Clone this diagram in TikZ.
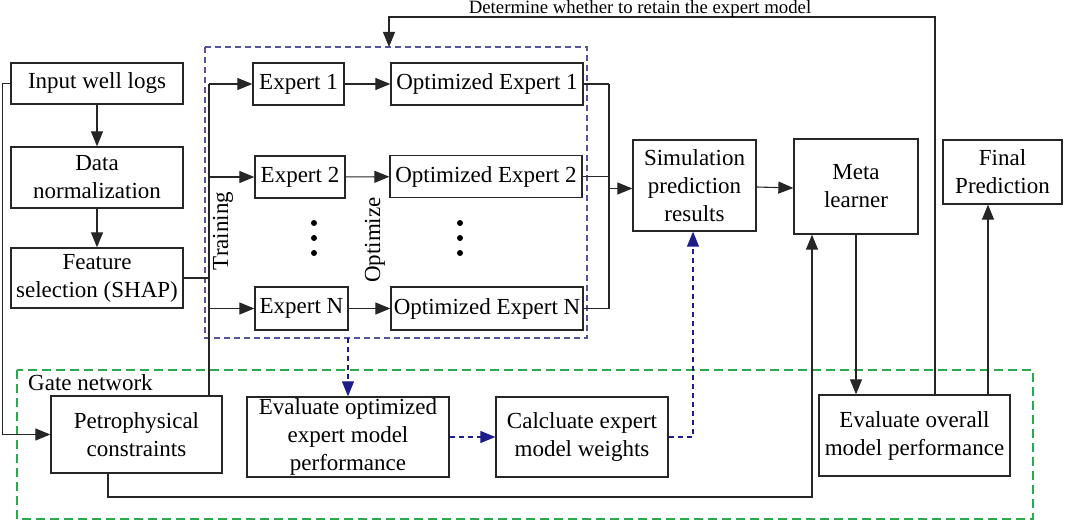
\documentclass[tikz,border=0pt]{standalone}
\usepackage{fontspec}
\setmainfont{Liberation Serif}
\usetikzlibrary{arrows.meta,calc}
\definecolor{gatec}{HTML}{2EA84E}
\definecolor{blueboxc}{HTML}{55559F}
\definecolor{bluearr}{HTML}{1E1E8A}
\begin{document}
\begin{tikzpicture}[x=1pt,y=-1pt,
  box/.style={draw=black!85,line width=1.3pt,inner sep=0pt,align=center,
    font=\fontsize{23}{28}\selectfont},
  conn/.style={line width=1.1pt,draw=black!85},
  arr/.style={conn,-{Triangle[length=15pt,width=12pt]}},
  barr/.style={line width=1.1pt,draw=bluearr,dash pattern=on 5pt off 4pt,
    -{Triangle[length=15pt,width=12pt]}},
  dotmark/.style={circle,fill=black,inner sep=0pt,minimum size=6pt}]
\useasboundingbox (0,0) rectangle (1065,521);
% containers
\draw[blueboxc,line width=1.1pt,dash pattern=on 6pt off 4pt] (205,47) rectangle (587,338);
\draw[gatec,line width=1.3pt,dash pattern=on 9pt off 5pt] (17,370) rectangle (1033,519);
\node[anchor=base west,inner sep=0pt,font=\fontsize{23}{26}\selectfont] (gatelbl) at (28,390) {Gate network};
% nodes
\node[box,minimum width=172pt,minimum height=41pt] (inp) at (97,83.5) {Input well logs};
\node[box,minimum width=172pt,minimum height=61pt] (norm) at (97,177.5) {Data\\normalization};
\node[box,minimum width=172pt,minimum height=60pt] (feat) at (97,278) {Feature\\selection (SHAP)};
\node[box,minimum width=91pt,minimum height=42pt] (e1) at (298.5,84) {Expert 1};
\node[box,minimum width=90pt,minimum height=42pt] (e2) at (300,177) {Expert 2};
\node[box,minimum width=93pt,minimum height=43pt] (eN) at (301.5,308.5) {Expert N};
\node[box,minimum width=192pt,minimum height=42pt] (o1) at (487,84) {Optimized Expert 1};
\node[box,minimum width=192pt,minimum height=42pt] (o2) at (486,176.5) {Optimized Expert 2};
\node[box,minimum width=192pt,minimum height=43pt] (oN) at (487,308.5) {Optimized Expert N};
\node[box,minimum width=123pt,minimum height=91pt] (sim) at (694.5,185.5) {Simulation\\prediction\\results};
\node[box,minimum width=124pt,minimum height=95pt] (meta) at (856,186.5) {Meta\\learner};
\node[box,minimum width=119pt,minimum height=64pt] (fin) at (1002.5,172) {Final\\Prediction};
\node[box,minimum width=171pt,minimum height=77pt] (petro) at (136.5,434.5) {Petrophysical\\constraints};
\node[box,minimum width=202pt,minimum height=80pt] (evopt) at (348,437) {Evaluate optimized\\expert model\\performance};
\node[box,minimum width=172pt,minimum height=80pt] (calc) at (582,437) {Calcluate expert\\model weights};
\node[box,minimum width=191pt,minimum height=81pt] (evall) at (914.5,435.5) {Evaluate overall\\model performance};
% labels
\node[rotate=90,inner sep=0pt,font=\fontsize{23}{26}\selectfont] (trainlbl) at (223,231) {Training};
\node[rotate=90,inner sep=0pt,font=\fontsize{23}{26}\selectfont] (optlbl) at (375,240) {Optimize};
\foreach \yy [count=\i] in {223,238,253} {
  \node[dotmark] (da\i) at (314,\yy) {};
  \node[dotmark] (db\i) at (460,\yy) {};
}
% coordinates
\coordinate (trtop) at (209,84);
\coordinate (join) at (609,84);
\coordinate (fbx) at (935,17);
\coordinate (fbl) at (389,17);
\coordinate (ptx) at (812,497);
% connectors left column
\draw[arr] (inp) -- (norm);
\draw[arr] (norm) -- (feat);
\draw[arr] (inp.west) -- ++(-8,0) |- (petro.west);
\draw[conn] (feat.east) -- (feat.east -| trtop);
\draw[conn] (trtop) -- (trtop |- petro.north);
\draw[arr] (trtop) -- (e1.west);
\draw[arr] (e2.west -| trtop) -- (e2.west);
\draw[arr] (eN.west -| trtop) -- (eN.west);
\draw[arr] (e1) -- (o1);
\draw[arr] (e2) -- (o2);
\draw[arr] (eN) -- (oN);
\draw[conn] (o1.east) -- (join);
\draw[conn] (o2.east) -- (o2.east -| join);
\draw[conn] (oN.east) -- (oN.east -| join) -- (join);
\draw[arr] ($(sim.west -| join)+(0,3)$) -- ($(sim.west)+(0,3)$);
\draw[arr] ($(sim.east)+(0,1.5)$) -- ($(meta.west)+(0,1.5)$);
\draw[arr] (meta.south) -- (meta.south |- evall.north);
\draw[arr] (evall.north -| 988,0) -- (fin.south -| 988,0);
\draw[arr] (evall.north -| fbx) -- (fbx) -- (fbl) -- (fbl |- 0,47);
\node[anchor=base,inner sep=0pt,font=\fontsize{18.8}{22}\selectfont] (fbtext) at (640,14) {Determine whether to retain the expert model};
\draw[arr] ($(petro.south)+(-28.5,0)$) |- (ptx) -- (ptx |- meta.south);
% dashed blue connectors
\draw[barr] (evopt.north |- 0,338) -- (evopt.north);
\draw[barr] (evopt.east) -- (calc.west);
\draw[barr] (calc.east) -- (calc.east -| 693,0) -- (sim.south -| 693,0);
\end{tikzpicture}
\end{document}
